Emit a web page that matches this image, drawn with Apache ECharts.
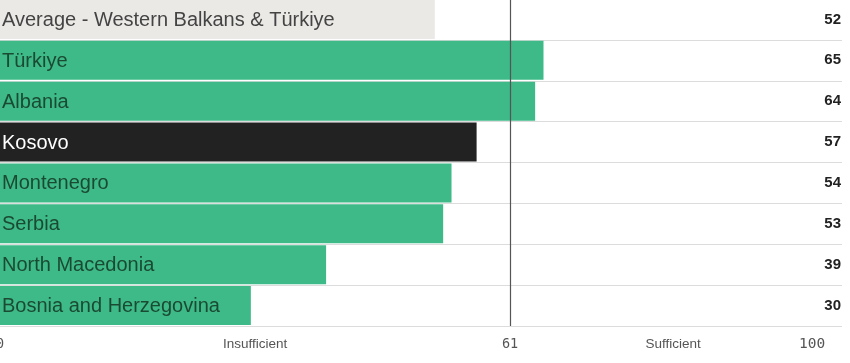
<!DOCTYPE html>
<html><head><meta charset="utf-8">
<script src="https://cdn.jsdelivr.net/npm/echarts@6/dist/echarts.min.js"></script>
<style>html,body{margin:0;padding:0;background:#fff}#c{width:850px;height:363px}</style>
</head><body><div id="c"></div>
<script>
const categories = ["Average - Western Balkans & Türkiye","Türkiye","Albania","Kosovo","Montenegro","Serbia","North Macedonia","Bosnia and Herzegovina"];
const scores = [52,65,64,57,54,53,39,30];
const threshold = 61;
const tickValues = [0,30.5,61,80.5,100];
const tickLabels = ["0","Insufficient","61","Sufficient","100"];

const barColor = i => i===0 ? '#ebe9e6' : (categories[i]==='Kosovo' ? '#222222' : '#3dba87');
const textColor = i => i===0 ? '#444444' : (categories[i]==='Kosovo' ? '#ffffff' : '#1b4a33');

const chart = echarts.init(document.getElementById('c'));
chart.setOption({
  animation:false,
  grid:{left:0,right:8,top:-1,height:327,outerBoundsMode:'none',containLabel:false},
  xAxis:{type:'value',min:0,max:100.7,
    axisLine:{show:false},axisTick:{show:false},splitLine:{show:false},
    axisLabel:{customValues:tickValues,margin:11,color:'#555',fontSize:13.5,fontFamily:'Liberation Sans, Arial, sans-serif',
      formatter:(v)=>{const i=tickValues.indexOf(v);const t=tickLabels[i];
        if(/^\d+$/.test(t)) return (v===100?'{e|'+t+'}':'{n|'+t+'}'); return t;},
      rich:{n:{fontFamily:'DejaVu Sans Mono, monospace',fontSize:13.5,color:'#555'},
            e:{fontFamily:'DejaVu Sans Mono, monospace',fontSize:14.5,color:'#555',padding:[0,48,0,0]}}}
  },
  yAxis:[
    {type:'category',data:categories,inverse:true,
      axisLine:{show:false},axisTick:{show:false},axisLabel:{show:false},
      splitLine:{show:true,lineStyle:{color:'#dcdcdc',width:1}}},
    {type:'category',data:scores.map(String),inverse:true,position:'right',
      axisLine:{show:false},axisTick:{show:false},
      axisLabel:{inside:true,margin:1,color:'#222',fontWeight:'bold',fontSize:15,fontFamily:'Liberation Sans, Arial, sans-serif'}}
  ],
  series:[{
    type:'bar',yAxisIndex:0,barWidth:39,
    data:scores.map((v,i)=>({value:v,itemStyle:{color:barColor(i)},
      label:{color:textColor(i)}})),
    label:{show:true,position:'insideLeft',distance:2,offset:[0,1],fontSize:20,fontFamily:'Liberation Sans, Arial, sans-serif',
      formatter:(p)=>categories[p.dataIndex]},
    markLine:{silent:true,symbol:'none',label:{show:false},
      lineStyle:{color:'#555',width:1.2,type:'solid'},
      data:[{xAxis:threshold}]}
  }]
});
</script></body></html>
